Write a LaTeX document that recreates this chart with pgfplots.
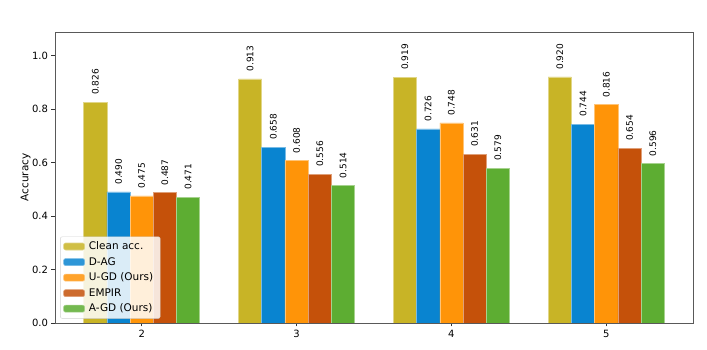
\documentclass[border=0pt]{standalone}
\usepackage{pgfplots}
\pgfplotsset{compat=1.18}
\usepackage{fontspec}
\setmainfont{DejaVu Sans}
\definecolor{cA}{HTML}{C8B426}
\definecolor{cB}{HTML}{0984D0}
\definecolor{cC}{HTML}{FF9408}
\definecolor{cD}{HTML}{C5510A}
\definecolor{cE}{HTML}{5DAD32}
\begin{document}
\begin{tikzpicture}
\begin{axis}[
  at={(0pt,0pt)}, anchor=south west,
  scale only axis, width=638pt, height=291pt,
  xmin=1.44, xmax=5.56, ymin=0, ymax=1.088,
  xtick={2,3,4,5}, ytick={0,0.2,0.4,0.6,0.8,1.0},
  /pgf/number format/assume math mode=true,
  yticklabel style={/pgf/number format/fixed,/pgf/number format/fixed zerofill,/pgf/number format/precision=1},
  tick label style={font=\fontsize{10}{12}\selectfont, color=black},
  tick align=outside, tick pos=left,
  major tick length=3.5pt,
  every tick/.style={color=black!80, line width=0.6pt},
  axis line style={color=black!65, line width=0.7pt},
  ylabel={Accuracy},
  ylabel style={font=\fontsize{10.5}{12}\selectfont, at={(axis description cs:0,0.5)}, anchor=south, yshift=21pt},
  ybar, bar width=0.15,
  nodes near coords,
  every node near coord/.append style={rotate=90, anchor=west, inner sep=0pt, xshift=7pt, font=\fontsize{9}{10}\selectfont, color=black,
     /pgf/number format/fixed,/pgf/number format/fixed zerofill,/pgf/number format/precision=3},
  legend cell align=left,
  legend style={at={(0.008,0.015)}, anchor=south west, draw=black!18, rounded corners=2pt, fill=white, fill opacity=0.85, text opacity=1,
     font=\fontsize{10.5}{12}\selectfont, row sep=2.2pt, inner sep=3pt,
     nodes={inner xsep=4pt}},
  legend image code/.code={\fill[#1] (0pt,-3.5pt) rectangle (21pt,3.5pt);},
]
\addplot[fill=cA, draw=cA!55!white, line width=0.6pt, bar shift=-0.3] coordinates {(2,0.826) (3,0.913) (4,0.919) (5,0.920)};
\addlegendentry{Clean acc.}
\addplot[fill=cB, draw=cB!55!white, line width=0.6pt, bar shift=-0.15] coordinates {(2,0.490) (3,0.658) (4,0.726) (5,0.744)};
\addlegendentry{D-AG}
\addplot[fill=cC, draw=cC!55!white, line width=0.6pt, bar shift=0] coordinates {(2,0.475) (3,0.608) (4,0.748) (5,0.816)};
\addlegendentry{U-GD (Ours)}
\addplot[fill=cD, draw=cD!55!white, line width=0.6pt, bar shift=0.15] coordinates {(2,0.487) (3,0.556) (4,0.631) (5,0.654)};
\addlegendentry{EMPIR}
\addplot[fill=cE, draw=cE!55!white, line width=0.6pt, bar shift=0.3] coordinates {(2,0.471) (3,0.514) (4,0.579) (5,0.596)};
\addlegendentry{A-GD (Ours)}
\end{axis}
\pgfresetboundingbox
\path[use as bounding box] (-55pt,-27pt) rectangle (652pt,323pt);
\end{tikzpicture}
\end{document}
